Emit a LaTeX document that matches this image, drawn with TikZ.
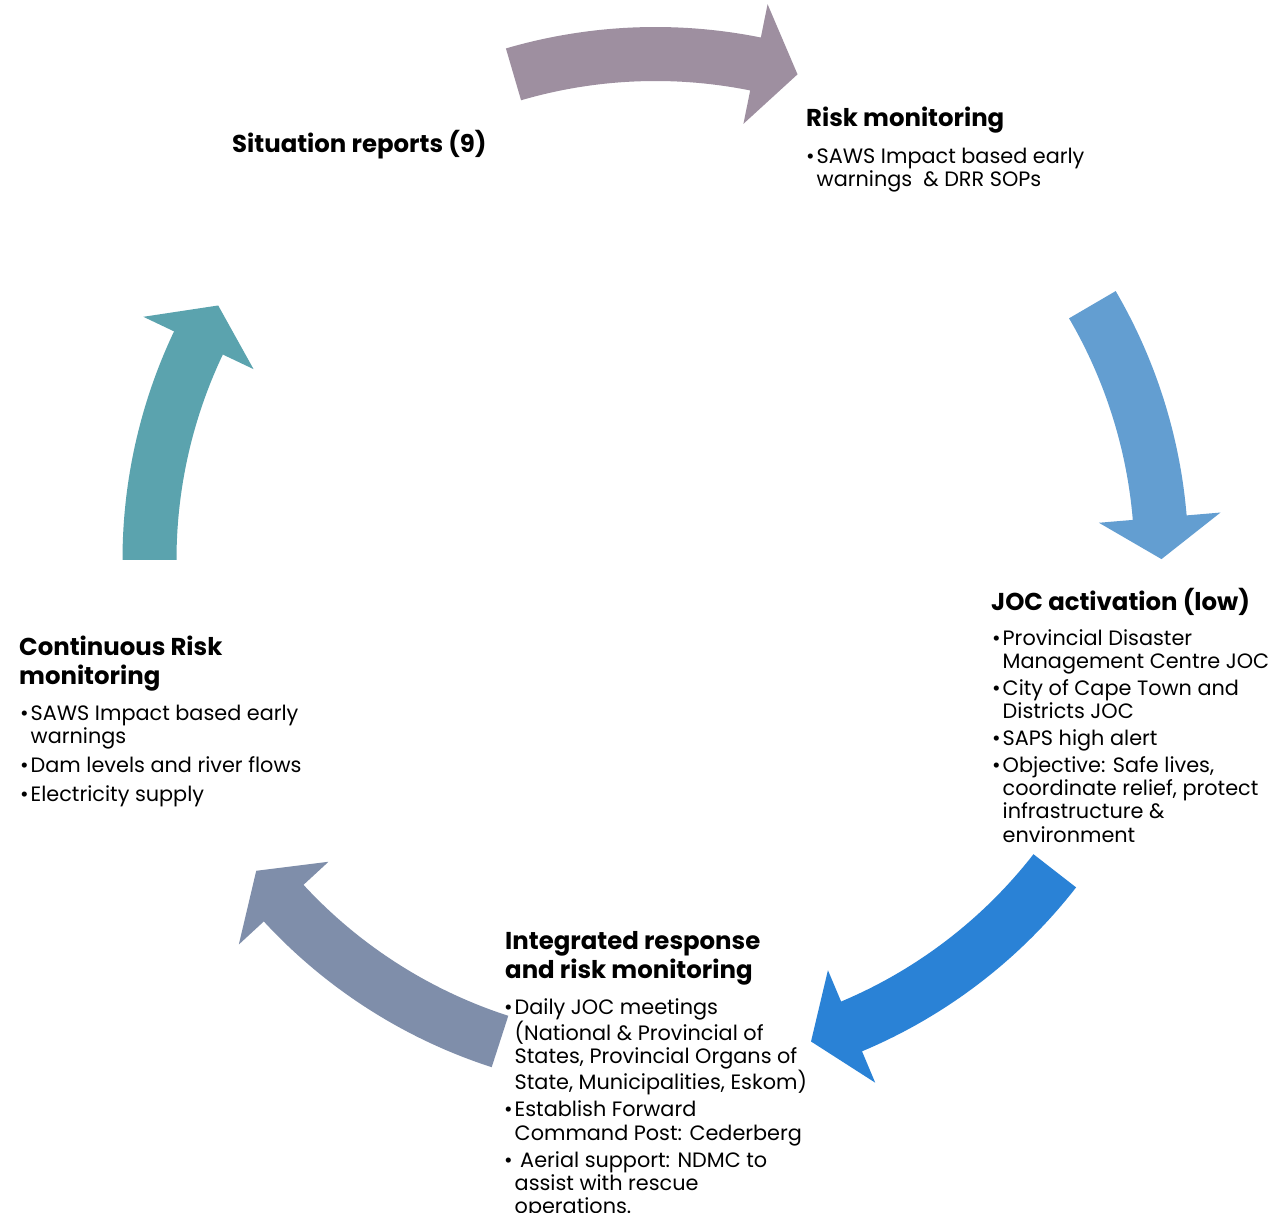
\documentclass[tikz,border=0pt]{standalone}
\usepackage{fontspec}
\setmainfont{Poppins}
\definecolor{cTop}{RGB}{158,143,160}
\definecolor{cRight}{RGB}{99,158,209}
\definecolor{cBR}{RGB}{42,130,214}
\definecolor{cBL}{RGB}{127,142,170}
\definecolor{cLeft}{RGB}{91,163,174}
\newcommand\headfont{\fontsize{24.4}{29}\selectfont\bfseries}
\newcommand\bodyfont{\fontsize{20.8}{23.2}\selectfont}
\newcommand\hs{\rule{0pt}{24pt}}
\newcommand\bs{\rule{0pt}{20pt}}
\newcommand\bul{\makebox[10.5pt][l]{\textbullet}}
\newcommand\ind{\hspace*{10.5pt}}
\newcommand\cyclearrow[4]{%
  \fill[#1] (#2:533pt) arc[start angle=#2, end angle=#3, radius=533pt]
    -- (#3:567pt) -- (#4:506pt) -- (#3:445pt) -- (#3:479pt)
    arc[start angle=#3, end angle=#2, radius=479pt] -- cycle;}
\tikzset{
  hd/.style={anchor=north west, inner sep=0pt, align=left, font=\headfont, text=black},
  bd/.style={anchor=north west, inner sep=0pt, align=left, font=\bodyfont, text=black},
}
\begin{document}
\begin{tikzpicture}[x=1pt,y=1pt]
\useasboundingbox (0,0) rectangle (1281,1212);
\fill[white] (0,0) rectangle (1281,1212);
\begin{scope}[shift={(655.5,652)}]
  \cyclearrow{cTop}{106.3}{78.6}{73.7}
  \cyclearrow{cRight}{30.3}{4.8}{0.1}
  \cyclearrow{cBR}{-37.9}{-67.2}{-72.1}
  \cyclearrow{cBL}{-107.9}{-137.3}{-142.1}
  \cyclearrow{cLeft}{180}{154.6}{149.8}
\end{scope}
% Situation reports
\node[hd] (sit-h) at (232,1084) {\hs Situation reports (9)};
% Risk monitoring
\node[hd] (risk-h) at (806,1110) {\hs Risk monitoring};
\node[bd] (risk-b) at (806,1069) {\bs\bul SAWS Impact based early\\
  \ind warnings \ \& DRR SOPs};
% JOC activation
\node[hd] (joc-h) at (991,626) {\hs JOC activation (low)};
\node[bd] (joc-b) at (992,587) {\bs\bul Provincial Disaster\\
  \ind Management Centre JOC\\[3.8pt]
  \bul City of Cape Town and\\
  \ind Districts JOC\\[3.8pt]
  \bul SAPS high alert\\[3.8pt]
  \bul Objective: Safe lives,\\
  \ind coordinate relief, protect\\
  \ind infrastructure \&\\
  \ind environment};
% Integrated response
\node[hd] (int-h) at (505,287) {\hs Integrated response\\and risk monitoring};
\node[bd] (int-b) at (504,218) {\bs\bul Daily JOC meetings\\
  \ind (National \& Provincial of\\
  \ind States, Provincial Organs of\\
  \ind State, Municipalities, Eskom)\\[4.2pt]
  \bul Establish Forward\\
  \ind Command Post: Cederberg\\[4.2pt]
  \bul\ Aerial support: NDMC to\\
  \ind assist with rescue\\
  \ind operations.};
% Continuous risk monitoring
\node[hd] (cont-h) at (19,581) {\hs Continuous Risk\\monitoring};
\node[bd] (cont-b) at (20,512) {\bs\bul SAWS Impact based early\\
  \ind warnings\\[5.7pt]
  \bul Dam levels and river flows\\[5.7pt]
  \bul Electricity supply};
\end{tikzpicture}
\end{document}
